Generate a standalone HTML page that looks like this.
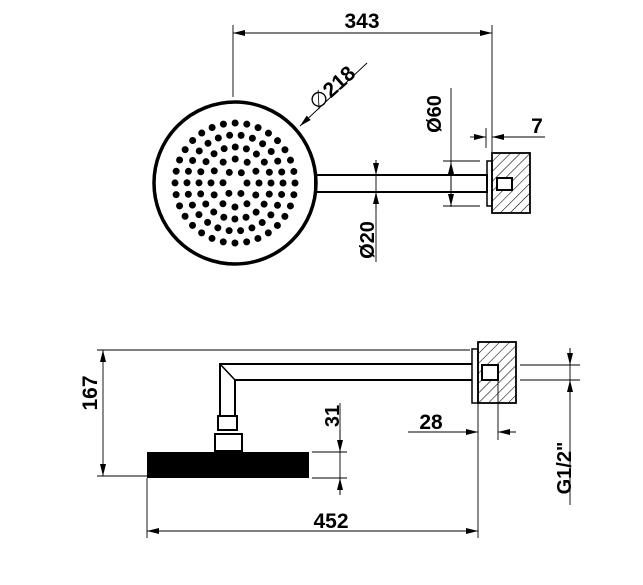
<!DOCTYPE html>
<html><head><meta charset="utf-8"><style>
html,body{margin:0;padding:0;background:#fff;}
svg{display:block}
text{font-family:"Liberation Sans",Arial,sans-serif;font-weight:bold;fill:#000}
</style></head><body>
<svg width="643" height="585" viewBox="0 0 643 585" xmlns="http://www.w3.org/2000/svg">
<defs>
<marker id="a" viewBox="0 0 12 6" refX="12" refY="3" markerWidth="12" markerHeight="6" markerUnits="userSpaceOnUse" orient="auto"><path d="M0,0L12,3L0,6z" fill="#000"/></marker>
<marker id="b" viewBox="0 0 12 6" refX="0" refY="3" markerWidth="12" markerHeight="6" markerUnits="userSpaceOnUse" orient="auto"><path d="M12,0L0,3L12,6z" fill="#000"/></marker>
<pattern id="h" width="7" height="7" patternUnits="userSpaceOnUse" patternTransform="rotate(45)"><line x1="0" y1="0" x2="0" y2="7" stroke="#000" stroke-width="1.1"/></pattern>
</defs>
<g stroke="#000" fill="none" stroke-width="0.9">
<line x1="233" y1="25" x2="233" y2="97"/>
<line x1="492" y1="25" x2="492" y2="152"/>
<line x1="233" y1="33" x2="492" y2="33" marker-start="url(#b)" marker-end="url(#a)"/>
<line x1="367" y1="63" x2="300" y2="126" marker-end="url(#a)"/>
<circle cx="235" cy="183" r="81" stroke-width="3.5"/>
<rect x="315" y="175" width="172" height="17" stroke-width="2"/>
<rect x="487" y="161" width="5" height="45" stroke-width="1.5"/>
<rect x="492" y="153" width="38" height="60" fill="url(#h)" stroke-width="1.8"/>
<rect x="497" y="178" width="15" height="12" fill="#fff" stroke-width="2"/>
<g stroke-width="7" stroke-linecap="round">
<circle cx="235" cy="183" r="12" stroke-dasharray="0 12.566"/>
<circle cx="235" cy="183" r="24" stroke-dasharray="0 12.566"/>
<circle cx="235" cy="183" r="36" stroke-dasharray="0 11.310"/>
<circle cx="235" cy="183" r="48" stroke-dasharray="0 11.600"/>
<circle cx="235" cy="183" r="60" stroke-dasharray="0 11.781"/>
</g>
<line x1="451" y1="88" x2="451" y2="207"/>
<line x1="451" y1="184" x2="451" y2="162" marker-end="url(#a)"/>
<line x1="451" y1="184" x2="451" y2="206" marker-end="url(#a)"/>
<line x1="443" y1="161" x2="480" y2="161"/>
<line x1="443" y1="206" x2="480" y2="206"/>
<line x1="486" y1="128" x2="486" y2="148"/>
<line x1="470" y1="137" x2="486" y2="137" marker-end="url(#a)"/>
<line x1="545" y1="137" x2="492" y2="137" marker-end="url(#a)"/>
<line x1="376" y1="160" x2="376" y2="262"/>
<line x1="376" y1="160" x2="376" y2="175" marker-end="url(#a)"/>
<line x1="376" y1="210" x2="376" y2="192" marker-end="url(#a)"/>
<line x1="97" y1="350" x2="470" y2="350"/>
<line x1="97" y1="476" x2="147" y2="476"/>
<line x1="103" y1="350" x2="103" y2="476" marker-start="url(#b)" marker-end="url(#a)"/>
<rect x="147" y="452" width="162" height="26" fill="#000" stroke="none"/>
<path d="M472,364H220V416H235V380H472" stroke-width="2"/>
<line x1="220" y1="364" x2="235" y2="380" stroke-width="1.5"/>
<rect x="218" y="416" width="19" height="14" stroke-width="2"/>
<rect x="215" y="434" width="27" height="17" stroke-width="2"/>
<rect x="472" y="349" width="6" height="54" stroke-width="1.5"/>
<rect x="478" y="342" width="38" height="61" fill="url(#h)" stroke-width="1.8"/>
<rect x="482" y="365" width="16" height="15" fill="#fff" stroke-width="2"/>
<line x1="312" y1="452" x2="347" y2="452"/>
<line x1="312" y1="478" x2="347" y2="478"/>
<line x1="340" y1="403" x2="340" y2="495"/>
<line x1="340" y1="430" x2="340" y2="452" marker-end="url(#a)"/>
<line x1="340" y1="495" x2="340" y2="478" marker-end="url(#a)"/>
<line x1="498" y1="380" x2="498" y2="440"/>
<line x1="408" y1="432" x2="478" y2="432" marker-end="url(#a)"/>
<line x1="516" y1="432" x2="498" y2="432" marker-end="url(#a)"/>
<line x1="147" y1="478" x2="147" y2="538"/>
<line x1="478" y1="403" x2="478" y2="538"/>
<line x1="147" y1="531" x2="478" y2="531" marker-start="url(#b)" marker-end="url(#a)"/>
<line x1="520" y1="365" x2="580" y2="365"/>
<line x1="520" y1="380" x2="580" y2="380"/>
<line x1="570" y1="348" x2="570" y2="505"/>
<line x1="570" y1="348" x2="570" y2="365" marker-end="url(#a)"/>
<line x1="570" y1="400" x2="570" y2="380" marker-end="url(#a)"/>
</g>
<text x="362" y="28" font-size="21" text-anchor="middle">343</text>
<g transform="translate(337,93) rotate(-42)"><text x="0" y="0" font-size="21" text-anchor="middle"><tspan font-weight="normal">∅</tspan>218</text></g>
<g transform="translate(441,114) rotate(-90)"><text font-size="20" text-anchor="middle">Ø60</text></g>
<text x="537" y="133" font-size="21" text-anchor="middle">7</text>
<g transform="translate(374,240) rotate(-90)"><text font-size="20" text-anchor="middle">Ø20</text></g>
<g transform="translate(97,393) rotate(-90)"><text font-size="21" text-anchor="middle">167</text></g>
<g transform="translate(339,416) rotate(-90)"><text font-size="20" text-anchor="middle">31</text></g>
<text x="431" y="429" font-size="21" text-anchor="middle">28</text>
<text x="331" y="528" font-size="21" text-anchor="middle">452</text>
<g transform="translate(571,468) rotate(-90)"><text font-size="20" text-anchor="middle">G1/2"</text></g>
</svg>
</body></html>
